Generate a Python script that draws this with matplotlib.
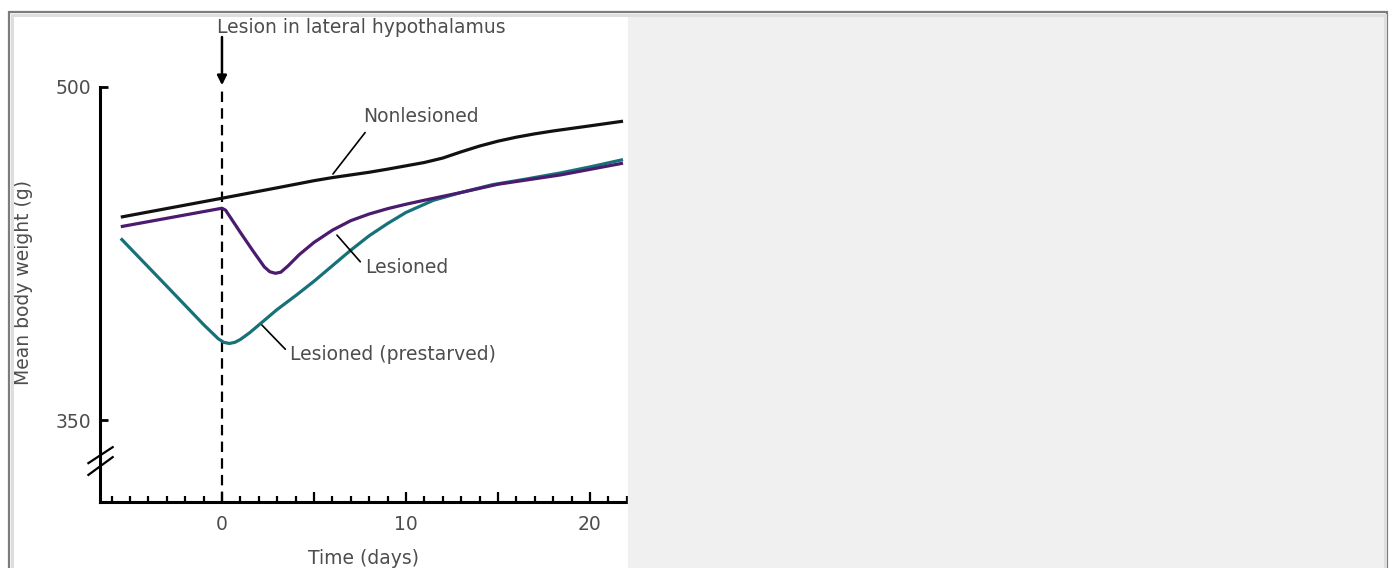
import matplotlib
matplotlib.use("Agg")
import matplotlib.pyplot as plt
from matplotlib.patches import Rectangle
from matplotlib.ticker import FixedLocator, FuncFormatter

# values (days after lesion, grams)
days_nonlesioned = [-5.5, 0, 3, 5, 6, 7, 8, 9, 10, 11, 12, 13, 14, 15, 16,
                    17, 18, 20, 21.8]
weight_nonlesioned = [441.4, 449.9, 454.6, 457.8, 459.2, 460.4, 461.6, 463.0,
                      464.5, 466.0, 468.0, 470.8, 473.4, 475.6, 477.4, 478.9,
                      480.2, 482.5, 484.6]

days_lesioned = [-5.5, 0, 0.2, 1.0, 1.7, 2.3, 2.6, 2.9, 3.2, 3.6, 4.2, 5, 6,
                 7, 8, 9, 10, 11, 13, 15, 18.4, 21.8]
weight_lesioned = [437.1, 445.4, 444.5, 434.5, 426.0, 419.0, 416.8, 416.1,
                   416.6, 419.5, 424.5, 430.0, 435.5, 439.8, 442.8, 445.2,
                   447.2, 449.0, 452.5, 456.2, 460.4, 465.7]

days_prestarved = [-5.5, -3, -1, -0.5, -0.2, 0.1, 0.4, 0.7, 1.0, 1.5, 2.1, 3,
                   4, 5, 6, 7, 8, 9, 10, 11.5, 13, 14.7, 16.5, 18.4, 20, 21.8]
weight_prestarved = [431.8, 410.3, 393.0, 389.0, 386.6, 385.0, 384.5, 385.0,
                     386.3, 389.3, 393.5, 399.8, 406.0, 412.5, 419.5, 426.5,
                     433.0, 438.5, 443.5, 449.0, 452.5, 456.0, 458.5, 461.3,
                     464.0, 467.3]

lesion_day = 0
y_ticks = [350, 500]
x_labelled = [0, 10, 20]

W, H = 1393, 568
plt.rcParams["font.family"] = ["DejaVu Sans"]
plt.rcParams["font.size"] = 13.5
plt.rcParams["lines.scale_dashes"] = False
text_col = "#4d4d4d"


def fx(px):
    return px / W


def fy(py):
    return 1 - py / H


fig = plt.figure(figsize=(W / 100, H / 100), dpi=100)
ax = fig.add_axes([fx(100), fy(502), fx(628) - fx(100), fy(87) - fy(502)])

ax.set_xlim(-6.63, 22.07)
ax.set_ylim(313.1, 500)

ax.plot(days_nonlesioned, weight_nonlesioned, color="#111111", lw=2.3,
        solid_capstyle="butt", solid_joinstyle="round", zorder=3)
ax.plot(days_prestarved, weight_prestarved, color="#167179", lw=2.3,
        solid_capstyle="butt", solid_joinstyle="round", zorder=3)
ax.plot(days_lesioned, weight_lesioned, color="#4b1b6f", lw=2.3,
        solid_capstyle="butt", solid_joinstyle="round", zorder=4)

ax.axvline(lesion_day, color="black", lw=1.6, dashes=(7.5, 4.5), zorder=2)

for s in ["top", "right"]:
    ax.spines[s].set_visible(False)
for s in ["left", "bottom"]:
    ax.spines[s].set_linewidth(2.2)

ax.xaxis.set_major_locator(FixedLocator([0, 5, 10, 15, 20]))
ax.xaxis.set_minor_locator(FixedLocator(list(range(-6, 23))))
ax.xaxis.set_major_formatter(FuncFormatter(
    lambda v, p: f"{v:g}" if v in x_labelled else ""))
ax.tick_params(axis="x", which="major", direction="in", length=7.5, width=1.6,
               pad=9, colors=text_col)
ax.tick_params(axis="x", which="minor", direction="in", length=4, width=1.6)
ax.tick_params(axis="x", which="both", color="black")
ax.set_yticks(y_ticks)
ax.tick_params(axis="y", direction="in", length=5.5, width=2, pad=6,
               labelcolor=text_col, color="black")

ax.set_xlabel("Time (days)", color=text_col)
ax.xaxis.set_label_coords(0.5, -0.113)
ax.set_ylabel("Mean body weight (g)", color=text_col)
ax.yaxis.set_label_coords(-0.127, 0.528)

# axis break on the y axis
bt = ax.get_yaxis_transform()
ax.plot([-0.022, 0.024], [330.6, 337.8], color="black", lw=1.6,
        transform=bt, clip_on=False)
ax.plot([-0.022, 0.024], [325.3, 333.3], color="black", lw=1.6,
        transform=bt, clip_on=False)

# lesion arrow and label
ax.annotate("", xy=(lesion_day, 500.8), xytext=(lesion_day, 522.5),
            arrowprops=dict(arrowstyle="-|>", color="black", lw=1.8,
                            mutation_scale=14, shrinkA=0, shrinkB=0),
            annotation_clip=False)
ax.text(-0.27, 527, "Lesion in lateral hypothalamus", color=text_col,
        ha="left", va="center")

lead = dict(arrowstyle="-", color="black", lw=1.2, shrinkB=0)
ax.annotate("Nonlesioned", xy=(6.03, 460.8), xytext=(7.66, 486.5),
            ha="left", va="center", color=text_col,
            arrowprops=dict(lead, relpos=(0.06, 0.0), shrinkA=3))
ax.annotate("Lesioned", xy=(6.25, 433.3), xytext=(7.77, 418.9),
            ha="left", va="center", color=text_col,
            arrowprops=dict(lead, relpos=(0.0, 0.5), shrinkA=2))
ax.annotate("Lesioned (prestarved)", xy=(2.17, 392.8), xytext=(3.7, 379.7),
            ha="left", va="center", color=text_col,
            arrowprops=dict(lead, relpos=(0.0, 0.5), shrinkA=2))

# page frame and grey side panel
fig.patches.append(Rectangle((fx(628), 0), fx(1385) - fx(628), fy(17),
                             transform=fig.transFigure, color="#f0f0f0",
                             zorder=5))
fig.patches.append(Rectangle((fx(9), fy(570)), fx(1387) - fx(9),
                             fy(12) - fy(570), transform=fig.transFigure,
                             fill=False, ec="#7c7c7c", lw=1.6, zorder=6))
fig.patches.append(Rectangle((fx(11.5), fy(570)), fx(1384.5) - fx(11.5),
                             fy(14.5) - fy(570), transform=fig.transFigure,
                             fill=False, ec="#dedede", lw=2.2, zorder=6))

fig.savefig("out.png", dpi=100)
